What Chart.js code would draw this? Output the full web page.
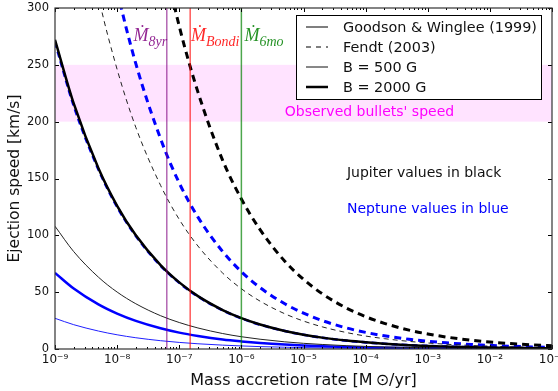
<!DOCTYPE html>
<html>
<head>
<meta charset="UTF-8">
<title>Ejection speed vs mass accretion rate</title>
<script src="https://cdn.jsdelivr.net/npm/chart.js"></script>
<style>
  body { margin: 0; background: #fff; }
  #wrap { width: 558px; height: 391px; }
</style>
</head>
<body>
<div id="wrap"><canvas id="speedChart" width="558" height="391"></canvas></div>
<script>
// mass accretion rate samples [Msun/yr]
const mdot = [1e-9, 2e-9, 5e-9, 1e-8, 2e-8, 5e-8, 1e-7, 2e-7, 5e-7, 1e-6, 2e-6, 5e-6,
              1e-5, 2e-5, 5e-5, 1e-4, 2e-4, 5e-4, 1e-3, 2e-3, 5e-3, 1e-2, 2e-2, 5e-2, 1e-1];

// ejection speed [km/s]
// Goodson & Winglee (1999)
const gwJup2000 = [272, 216, 159, 126, 100, 73.8, 58.6, 46.5, 34.3, 27.2, 21.6, 15.9, 12.6, 10.0, 7.4, 5.9, 4.7, 3.4, 2.7, 2.2, 1.6, 1.3, 1.0, 0.74, 0.59];
const gwJup500  = [108, 85.7, 63.2, 50.1, 39.8, 29.3, 23.3, 18.5, 13.6, 10.8, 8.6, 6.3, 5.0, 4.0, 2.9, 2.3, 1.8, 1.4, 1.1, 0.86, 0.63, 0.50, 0.40, 0.29, 0.23];
const gwNep2000 = [67, 53.2, 39.2, 31.1, 24.7, 18.2, 14.4, 11.5, 8.4, 6.7, 5.3, 3.9, 3.1, 2.5, 1.8, 1.4, 1.1, 0.84, 0.67, 0.53, 0.39, 0.31, 0.25, 0.18, 0.14];
const gwNep500  = [27, 21.4, 15.8, 12.5, 9.9, 7.3, 5.8, 4.6, 3.4, 2.7, 2.1, 1.6, 1.25, 0.99, 0.73, 0.58, 0.46, 0.34, 0.27, 0.21, 0.16, 0.13, 0.10, 0.07, 0.06];
// Fendt (2003)
const fdJup2000 = [1320, 1048, 772, 613, 486, 358, 284, 226, 166, 132, 105, 77.2, 61.3, 48.6, 35.8, 28.4, 22.6, 16.6, 13.2, 10.5, 7.7, 6.1, 4.9, 3.6, 2.8];
const fdJup500  = [530, 421, 310, 246, 195, 144, 114, 90.6, 66.8, 53, 42.1, 31.0, 24.6, 19.5, 14.4, 11.4, 9.1, 6.7, 5.3, 4.2, 3.1, 2.5, 1.95, 1.44, 1.14];
const fdNep2000 = [680, 540, 398, 316, 251, 185, 146, 116, 85.7, 68, 54, 39.8, 31.6, 25.0, 18.4, 14.6, 11.6, 8.6, 6.8, 5.4, 4.0, 3.2, 2.5, 1.8, 1.5];
const fdNep500  = [270, 214, 158, 125, 99.5, 73.3, 58.2, 46.2, 34.0, 27, 21.4, 15.8, 12.5, 9.9, 7.3, 5.8, 4.6, 3.4, 2.7, 2.1, 1.6, 1.25, 0.99, 0.73, 0.58];

// reference accretion rates (vertical lines)
const markerNames = ['8yr', 'Bondi', '6mo'];
const markerRates = [6.3e-8, 1.5e-7, 1e-6];
const markerColors = ['rgba(128,0,128,0.6)', 'rgba(255,0,0,0.65)', 'rgba(0,128,0,0.7)'];

const bandRange = [200, 250];
const bandLabel = "Observed bullets' speed";
const legendLabels = ['Goodson & Winglee (1999)', 'Fendt (2003)', 'B = 500 G', 'B = 2000 G'];
const yTicks = [0, 50, 100, 150, 200, 250, 300];

const toPts = arr => mdot.map((m, i) => ({ x: m, y: arr[i] }));
const vLine = m => [{ x: m, y: 0 }, { x: m, y: 300 }];

function curve(vals, color, width, dash) {
  return {
    data: toPts(vals),
    borderColor: color,
    borderWidth: width,
    borderDash: dash || [],
    pointRadius: 0,
    fill: false,
    cubicInterpolationMode: 'monotone'
  };
}

// first dataset ends up on top
const datasets = [
  ...markerRates.map((m, i) => ({ data: vLine(m), borderColor: markerColors[i], borderWidth: 1.5, pointRadius: 0 })),
  curve(gwJup2000, '#000', 2.5),
  curve(fdNep500, '#0000ff', 2.6, [6, 4]),
  curve(gwJup500, '#222', 1),
  curve(gwNep2000, '#0000ff', 2.5),
  curve(gwNep500, '#2020ff', 1),
  curve(fdJup2000, '#000', 3, [7, 5]),
  curve(fdJup500, '#222', 1, [5, 4]),
  curve(fdNep2000, '#0000ff', 3, [7, 5])
];

const SUP = { '-': '\u207b', '0': '\u2070', '1': '\u00b9', '2': '\u00b2', '3': '\u00b3', '4': '\u2074',
              '5': '\u2075', '6': '\u2076', '7': '\u2077', '8': '\u2078', '9': '\u2079' };
const isDecade = v => Math.abs(Math.log10(v) - Math.round(Math.log10(v))) < 1e-6;

const decorations = {
  id: 'decorations',
  beforeDatasetsDraw(chart) {
    const { ctx, chartArea: a, scales: { y } } = chart;
    ctx.save();
    ctx.fillStyle = 'rgba(255,0,255,0.11)';
    const yTop = y.getPixelForValue(bandRange[1]);
    const yBot = y.getPixelForValue(bandRange[0]);
    ctx.fillRect(a.left, yTop, a.right - a.left, yBot - yTop);
    ctx.restore();
  },
  afterDatasetsDraw(chart) {
    const { ctx, chartArea: a, scales: { x, y } } = chart;
    ctx.save();

    // ticks pointing inward on all four sides
    ctx.strokeStyle = '#000';
    ctx.lineWidth = 1;
    ctx.beginPath();
    for (let e = -9; e <= -1; e++) {
      for (let k = 1; k <= 9; k++) {
        const v = k * Math.pow(10, e);
        if (e === -1 && k > 1) break;
        const px = Math.round(x.getPixelForValue(v)) + 0.5;
        const len = k === 1 ? 4 : 2;
        ctx.moveTo(px, a.bottom); ctx.lineTo(px, a.bottom - len);
        ctx.moveTo(px, a.top); ctx.lineTo(px, a.top + len);
      }
    }
    yTicks.forEach(t => {
      const py = Math.round(y.getPixelForValue(t)) + 0.5;
      ctx.moveTo(a.left, py); ctx.lineTo(a.left + 4, py);
      ctx.moveTo(a.right, py); ctx.lineTo(a.right - 4, py);
    });
    ctx.stroke();

    // frame
    ctx.strokeStyle = '#333';
    ctx.lineWidth = 1.2;
    ctx.strokeRect(a.left, a.top, a.right - a.left, a.bottom - a.top);

    // band label
    ctx.font = '14px "DejaVu Sans"';
    ctx.fillStyle = '#ff00ff';
    ctx.textBaseline = 'alphabetic';
    ctx.fillText(bandLabel, x.getPixelForValue(5e-6), y.getPixelForValue(205));

    ctx.fillStyle = '#111';
    ctx.fillText('Jupiter values in black', x.getPixelForValue(5e-5), y.getPixelForValue(151));
    ctx.fillStyle = '#0000ff';
    ctx.fillText('Neptune values in blue', x.getPixelForValue(5e-5), y.getPixelForValue(120));

    // accretion rate labels (M-dot with subscript)
    const anchors = [1.84e-8, 1.55e-7, 1.12e-6];
    markerNames.forEach((name, i) => {
      const px = x.getPixelForValue(anchors[i]);
      const py = y.getPixelForValue(271);
      ctx.fillStyle = markerColors[i].replace(/[\d.]+\)$/, '0.85)');
      ctx.font = 'italic 18px "Liberation Serif"';
      ctx.fillText('\u1e40', px, py);
      const w = ctx.measureText('\u1e40').width;
      ctx.font = 'italic 14px "Liberation Serif"';
      ctx.fillText(name, px + w, py + 5);
    });

    // legend
    const lx = a.right - 256, ly = a.top + 7, lw = 245, lh = 84;
    ctx.fillStyle = '#fff';
    ctx.fillRect(lx, ly, lw, lh);
    ctx.strokeStyle = '#000';
    ctx.lineWidth = 1;
    ctx.strokeRect(lx + 0.5, ly + 0.5, lw, lh);
    const styles = [
      { c: '#555', w: 1.5, d: [] },
      { c: '#555', w: 1.5, d: [5, 5] },
      { c: '#111', w: 1, d: [] },
      { c: '#000', w: 2.5, d: [] }
    ];
    ctx.font = '14.4px "DejaVu Sans"';
    ctx.textBaseline = 'middle';
    legendLabels.forEach((lab, i) => {
      const cy = ly + 12 + i * 20;
      ctx.beginPath();
      ctx.strokeStyle = styles[i].c;
      ctx.lineWidth = styles[i].w;
      ctx.setLineDash(styles[i].d);
      ctx.moveTo(lx + 10, cy); ctx.lineTo(lx + 32, cy);
      ctx.stroke();
      ctx.setLineDash([]);
      ctx.fillStyle = '#111';
      ctx.fillText(lab, lx + 47, cy + 1);
    });

    // axis titles
    ctx.fillStyle = '#111';
    ctx.font = '16px "DejaVu Sans"';
    ctx.textAlign = 'center';
    ctx.textBaseline = 'alphabetic';
    ctx.fillText('Mass accretion rate [M\u2009\u2299/yr]', (a.left + a.right) / 2, 385);
    ctx.font = '15.5px "DejaVu Sans"';
    ctx.translate(19, (a.top + a.bottom) / 2);
    ctx.rotate(-Math.PI / 2);
    ctx.fillText('Ejection speed [km/s]', 0, 0);
    ctx.restore();
  }
};

const fixBox = s => { s.paddingLeft = 0; s.paddingRight = 0; s.paddingTop = 0; s.paddingBottom = 0; };

new Chart(document.getElementById('speedChart'), {
  type: 'line',
  data: { datasets },
  options: {
    responsive: false,
    animation: false,
    events: [],
    layout: { padding: { top: 8, right: 6, left: 0, bottom: 0 } },
    plugins: { legend: { display: false }, tooltip: { enabled: false } },
    scales: {
      x: {
        type: 'logarithmic',
        min: 1e-9,
        max: 1e-1,
        grid: { display: false, drawTicks: false },
        border: { display: false },
        ticks: {
          autoSkip: false,
          maxRotation: 0,
          padding: 4,
          color: '#111',
          font: { family: 'DejaVu Sans', size: 12 },
          callback: v => isDecade(v) ? '10' + String(Math.round(Math.log10(v))).split('').map(c => SUP[c]).join('') : ''
        },
        afterFit: s => { s.height = 42; fixBox(s); }
      },
      y: {
        min: 0,
        max: 300,
        grid: { display: false, drawTicks: false },
        border: { display: false },
        afterBuildTicks: s => { s.ticks = yTicks.map(v => ({ value: v })); },
        ticks: {
          padding: 6,
          color: '#111',
          font: { family: 'DejaVu Sans', size: 11.5 }
        },
        afterFit: s => { s.width = 55; fixBox(s); }
      }
    }
  },
  plugins: [decorations]
});
</script>
</body>
</html>
